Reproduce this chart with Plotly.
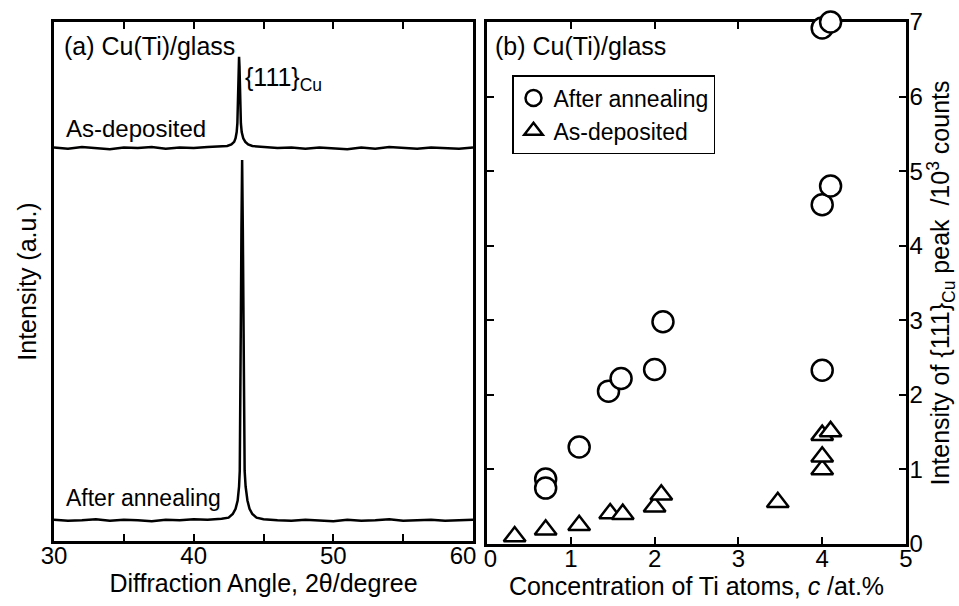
import plotly.graph_objects as go

# ---------------- data ----------------
# (a) XRD patterns (arbitrary units, offset)
ad_x = [30, 31, 32, 33, 34, 35, 36, 37, 38, 39, 40, 41, 42,
        42.4, 42.7, 42.9, 43.0, 43.08, 43.13, 43.16, 43.19, 43.22, 43.25,
        43.28, 43.31, 43.34, 43.38, 43.44, 43.55, 43.7, 43.9, 44.2,
        45, 46, 47, 48, 49, 50, 51, 52, 53, 54, 55, 56, 57, 58, 59, 60]
ad_y = [75.8, 75.6, 75.9, 75.7, 75.5, 75.8, 75.7, 75.9, 75.6, 75.8, 75.7, 75.9, 76.0,
        76.1, 76.4, 76.9, 77.6, 78.8, 80.5, 84.5, 87.5, 91.5, 93.3,
        91.5, 87.5, 84.5, 80.5, 78.8, 77.6, 76.9, 76.4, 76.1,
        75.9, 75.7, 75.8, 75.6, 75.8, 75.7, 75.5, 75.8, 75.6, 75.9, 75.7, 75.6, 75.8, 75.7, 75.6, 75.8]

an_x = [30, 31, 32, 33, 34, 35, 36, 37, 38, 39, 40, 41, 42,
        42.5, 42.8, 43.0, 43.15, 43.25, 43.3, 43.35, 43.38, 43.42, 43.47,
        43.52, 43.56, 43.6, 43.65, 43.72, 43.85, 44.0, 44.2, 44.5,
        45, 46, 47, 48, 49, 50, 51, 52, 53, 54, 55, 56, 57, 58, 59, 60]
an_y = [4.1, 3.9, 4.0, 4.2, 3.9, 4.1, 4.0, 3.8, 4.1, 4.0, 4.2, 4.1, 4.3,
        4.5, 5.2, 6.2, 7.8, 10.5, 13.5, 25, 43, 60, 73.4,
        60, 43, 25, 13.5, 10.5, 7.8, 6.2, 5.2, 4.5,
        4.2, 4.0, 3.9, 4.1, 4.0, 3.8, 4.1, 3.9, 4.0, 4.2, 3.9, 4.0, 4.1, 3.9, 4.0, 4.1]

# (b) Intensity of {111}Cu peak vs Ti concentration
anneal_c = [0.70, 0.70, 1.10, 1.45, 1.60, 2.00, 2.10, 4.00, 4.00, 4.10, 4.00, 4.10]
anneal_i = [0.87, 0.75, 1.30, 2.05, 2.22, 2.34, 2.98, 2.33, 4.55, 4.80, 6.92, 7.00]

asdep_c = [0.33, 0.70, 1.10, 1.47, 1.62, 2.00, 2.08, 3.47, 4.00, 4.00, 4.00, 4.10]
asdep_i = [0.10, 0.19, 0.25, 0.41, 0.40, 0.50, 0.66, 0.56, 1.00, 1.17, 1.46, 1.51]

NB = "\u00a0"
left_xticks = [30, 35, 40, 45, 50, 55, 60]
left_xlabels = ["30", "", "40", "", "50", "", "60" + NB * 3]
right_xticks = [0, 1, 2, 3, 4, 5]
right_xlabels = [NB + "0", "1", "2", "3", "4", "5"]
right_yticks = [0, 1, 2, 3, 4, 5, 6, 7]

# ---------------- layout helpers ----------------
W, H = 959, 606
def px(x):
    return x / W
def py(y):
    return 1 - y / H

FONT = "Liberation Sans, Arial, sans-serif"
FS = 25
TFS = 24
fig = go.Figure()

fig.add_trace(go.Scatter(x=ad_x, y=ad_y, mode="lines", line=dict(color="black", width=2.5),
                         xaxis="x", yaxis="y", showlegend=False))
fig.add_trace(go.Scatter(x=an_x, y=an_y, mode="lines", line=dict(color="black", width=2.5),
                         xaxis="x", yaxis="y", showlegend=False))

fig.add_trace(go.Scatter(x=anneal_c, y=anneal_i, mode="markers", name="After annealing",
                         marker=dict(symbol="circle", size=21, color="white",
                                     line=dict(color="black", width=2.5)),
                         xaxis="x2", yaxis="y2", cliponaxis=False))
fig.add_trace(go.Scatter(x=asdep_c, y=asdep_i, mode="markers", name="As-deposited",
                         marker=dict(symbol="triangle-up", size=19, color="white",
                                     line=dict(color="black", width=2.5)),
                         xaxis="x2", yaxis="y2", cliponaxis=False))

axis_common = dict(showline=True, linecolor="black", linewidth=2.5, mirror="ticks",
                   ticks="inside", ticklen=7, tickwidth=2, tickcolor="black",
                   showgrid=False, zeroline=False, automargin=False,
                   tickfont=dict(family=FONT, size=TFS, color="black"))

fig.update_layout(
    width=W, height=H,
    margin=dict(l=0, r=0, t=0, b=0, pad=0),
    paper_bgcolor="white", plot_bgcolor="rgba(0,0,0,0)",
    font=dict(family=FONT, size=FS, color="black"),
    xaxis=dict(**axis_common, domain=[px(54), px(473)], range=[30, 60],
               tickvals=left_xticks, ticktext=left_xlabels, anchor="y",
               ticklabelstandoff=-9,
               title=dict(text="Diffraction Angle, 2θ/degree", standoff=2,
                          font=dict(family=FONT, size=FS))),
    yaxis=dict(showline=True, linecolor="black", linewidth=2.5, mirror=True,
               showgrid=False, zeroline=False, showticklabels=False, ticks="",
               automargin=False,
               domain=[py(541), py(22)], range=[0, 100], anchor="x",
               title=dict(text="Intensity (a.u.)", standoff=8,
                          font=dict(family=FONT, size=FS))),
    xaxis2=dict(**axis_common, domain=[px(487), px(906)], range=[0, 5],
                tickvals=right_xticks, ticktext=right_xlabels, anchor="y2",
                layer="below traces", ticklabelstandoff=-9,
                title=dict(text="Concentration of Ti atoms, <i>c</i> /at.%", standoff=2,
                           font=dict(family=FONT, size=FS))),
    yaxis2=dict(**axis_common, domain=[py(544), py(22)], range=[0, 7],
                tickvals=right_yticks, side="right", anchor="x2", layer="below traces",
                ticklabelstandoff=-4,
                title=dict(text="Intensity of {111}<sub>Cu</sub> peak  /10<sup>3</sup> counts",
                           standoff=4, font=dict(family=FONT, size=FS))),
    legend=dict(x=px(512), y=py(75), xanchor="left", yanchor="top",
                bordercolor="black", borderwidth=1.5, bgcolor="white",
                font=dict(family=FONT, size=23, color="black"),
                tracegroupgap=0, itemwidth=30),
    showlegend=True,
)

ann = [
    dict(text="(a) Cu(Ti)/glass", x=px(62), y=py(46), xanchor="left", yanchor="middle", size=FS),
    dict(text="{111}<sub>Cu</sub>", x=px(243), y=py(79), xanchor="left", yanchor="middle", size=FS),
    dict(text="As-deposited", x=px(64), y=py(128), xanchor="left", yanchor="middle", size=24),
    dict(text="After annealing", x=px(64), y=py(498), xanchor="left", yanchor="middle", size=23),
    dict(text="(b) Cu(Ti)/glass", x=px(493), y=py(46), xanchor="left", yanchor="middle", size=FS),
]
for a in ann:
    s = a.pop("size")
    fig.add_annotation(xref="paper", yref="paper", showarrow=False,
                       font=dict(family=FONT, size=s, color="black"), **a)

fig.write_html("out.html")
